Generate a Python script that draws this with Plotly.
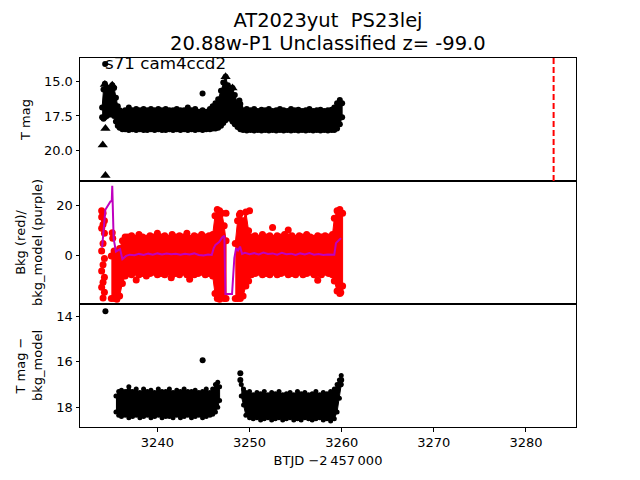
import plotly.graph_objects as go

# ---- top panel: T mag (envelope of the dense light curve) ----
top_t = [3234.0, 3234.15, 3234.3, 3234.5, 3234.7, 3234.9, 3235.1, 3235.3, 3235.5, 3235.7,
         3235.9, 3236.2, 3236.5, 3236.9, 3237.3, 3237.7, 3238.1, 3238.5, 3238.9, 3239.3,
         3239.7, 3240.1, 3240.5, 3240.9, 3241.3, 3241.7, 3242.1, 3242.5, 3242.9, 3243.3,
         3243.7, 3244.1, 3244.5, 3244.9, 3245.3, 3245.7, 3246.0, 3246.3, 3246.6, 3246.9,
         3247.15, 3247.4, 3247.65, 3247.9, 3248.15, 3248.4, 3248.7, 3249.0, 3249.3, 3249.7,
         3250.1, 3250.5, 3250.9, 3251.3, 3251.7, 3252.1, 3252.5, 3252.9, 3253.3, 3253.7,
         3254.1, 3254.5, 3254.9, 3255.3, 3255.7, 3256.1, 3256.5, 3256.9, 3257.3, 3257.7,
         3258.1, 3258.5, 3258.9, 3259.2, 3259.5, 3259.8, 3260.05]
top_hi = [16.9, 15.6, 15.2, 15.5, 15.8, 15.6, 15.3, 15.5, 16.2, 16.8,
          17.1, 17.2, 17.1, 16.9, 17.1, 17.0, 17.1, 17.0, 17.1, 17.0,
          17.1, 17.0, 17.1, 17.0, 17.1, 17.1, 17.0, 17.1, 17.1, 16.9,
          17.1, 17.0, 17.2, 17.1, 17.2, 17.0, 16.8, 16.6, 16.3, 15.7,
          15.1, 14.7, 15.3, 15.7, 15.5, 16.0, 16.6, 16.9, 17.1, 17.0,
          17.1, 17.0, 17.15, 17.05, 17.1, 17.0, 17.15, 17.1, 17.0, 17.1,
          17.15, 17.0, 17.1, 17.05, 17.15, 17.1, 17.0, 17.15, 17.1, 17.05,
          17.15, 17.1, 17.05, 16.9, 16.6, 16.35, 16.6]
top_lo = [17.6, 17.7, 17.6, 17.5, 17.4, 17.4, 17.3, 17.5, 17.9, 18.2,
          18.35, 18.45, 18.45, 18.5, 18.45, 18.5, 18.45, 18.5, 18.5, 18.45,
          18.5, 18.45, 18.5, 18.5, 18.45, 18.5, 18.45, 18.5, 18.45, 18.5,
          18.45, 18.5, 18.45, 18.5, 18.45, 18.45, 18.4, 18.4, 18.35, 18.2,
          18.0, 17.8, 17.6, 17.7, 17.9, 18.1, 18.3, 18.45, 18.5, 18.55,
          18.5, 18.55, 18.5, 18.55, 18.5, 18.55, 18.5, 18.55, 18.5, 18.55,
          18.5, 18.55, 18.5, 18.55, 18.5, 18.55, 18.5, 18.55, 18.5, 18.55,
          18.5, 18.55, 18.5, 18.5, 18.4, 18.1, 17.6]
top_dot_t = [3234.33, 3244.9, 3248.9, 3249.0]
top_dot_mag = [13.78, 15.9, 16.4, 16.65]
tri_t = [3234.07, 3234.36, 3234.36, 3234.3, 3235.1, 3247.4, 3248.15]
tri_mag = [19.58, 18.4, 21.76, 15.25, 15.3, 14.7, 15.5]
vline_t = [3283.0]

# ---- middle panel: background (red) and background model (purple) ----
bkg_a_t = [3235.0, 3235.3, 3235.6, 3235.9, 3236.2, 3236.5, 3236.8, 3237.2, 3237.6, 3238.0,
           3238.4, 3238.8, 3239.2, 3239.6, 3240.0, 3240.4, 3240.8, 3241.2, 3241.6, 3242.0,
           3242.4, 3242.8, 3243.2, 3243.6, 3244.0, 3244.4, 3244.8, 3245.2, 3245.6, 3246.0,
           3246.25, 3246.5, 3246.75, 3247.0, 3247.25, 3247.45]
bkg_a_hi = [0.0, 2.0, 1.0, 3.0, 6.0, 7.5, 7.5, 8.0, 7.0, 8.5,
            7.5, 7.0, 8.0, 7.5, 9.0, 7.5, 8.0, 7.0, 8.5, 7.5,
            8.0, 7.5, 9.0, 7.0, 8.0, 7.5, 8.5, 7.5, 8.0, 8.5,
            16.0, 18.5, 18.0, 17.0, 12.0, 6.0]
bkg_a_lo = [-17.0, -17.0, -17.3, -16.0, -11.0, -8.0, -7.0, -7.5, -6.5, -7.5,
            -7.0, -8.0, -7.0, -6.5, -7.5, -7.0, -7.5, -6.5, -7.5, -7.0,
            -7.5, -6.5, -7.5, -7.0, -7.5, -7.0, -6.5, -7.5, -7.0, -8.0,
            -15.0, -17.0, -17.3, -16.0, -17.0, -17.0]
bkg_b_t = [3248.45, 3248.7, 3249.0, 3249.3, 3249.6, 3249.9, 3250.2, 3250.6, 3251.0, 3251.4,
           3251.8, 3252.2, 3252.6, 3253.0, 3253.4, 3253.8, 3254.2, 3254.6, 3255.0, 3255.4,
           3255.8, 3256.2, 3256.6, 3257.0, 3257.4, 3257.8, 3258.2, 3258.6, 3259.0, 3259.2,
           3259.5, 3259.8, 3260.1]
bkg_b_hi = [5.0, 14.0, 17.0, 14.0, 17.5, 10.0, 7.5, 8.0, 7.0, 8.5,
            7.5, 8.0, 7.0, 8.0, 7.5, 8.5, 7.5, 8.0, 7.0, 8.0,
            7.5, 8.5, 7.5, 7.0, 8.0, 7.5, 8.0, 7.5, 8.5, 15.0,
            18.0, 18.5, 17.0]
bkg_b_lo = [-17.0, -17.0, -17.0, -16.0, -12.0, -10.0, -7.5, -7.0, -6.5, -7.5,
            -7.0, -7.5, -6.5, -7.5, -7.0, -6.5, -7.5, -7.0, -7.5, -6.5,
            -7.5, -7.0, -6.5, -7.5, -7.0, -7.5, -6.5, -7.0, -7.5, -10.0,
            -14.0, -15.0, -12.0]
bkg_dot_t = [3233.95, 3234.1, 3233.95, 3234.25, 3234.1, 3233.95, 3234.25, 3234.1, 3233.95, 3234.25,
             3234.1, 3233.95, 3234.25, 3234.1, 3233.95, 3234.25, 3234.1,
             3237.7, 3241.5, 3243.5, 3257.4, 3250.0, 3247.45, 3248.9, 3254.2, 3252.5,
             3259.9, 3259.9, 3235.1, 3235.15]
bkg_dot_v = [18.0, 17.0, 15.5, 14.0, 12.5, 11.0, 9.0, 5.0, 2.0, -1.0,
             -3.5, -6.0, -8.5, -10.5, -12.5, -14.5, -16.8,
             -9.6, -8.7, -9.3, -9.7, 18.0, 17.0, 16.4, 10.3, 11.3,
             -12.4, -14.6, 9.2, 7.0]
model_t = [3234.0, 3234.2, 3234.35, 3234.9, 3235.05, 3235.1, 3235.25, 3235.5, 3235.75, 3235.95,
           3236.2, 3236.6, 3237.0, 3237.5, 3238.0, 3238.5, 3239.0, 3239.5, 3240.0, 3240.5,
           3241.0, 3241.5, 3242.0, 3242.5, 3243.0, 3243.5, 3244.0, 3244.5, 3245.0, 3245.5,
           3245.9, 3246.1, 3246.3, 3246.7, 3247.05, 3247.27, 3247.38, 3248.1, 3248.35, 3248.54,
           3248.75, 3248.97, 3249.19, 3249.5, 3250.0, 3250.5, 3251.0, 3251.5, 3252.0, 3252.5,
           3253.0, 3253.5, 3254.0, 3254.5, 3255.0, 3255.5, 3256.0, 3256.5, 3257.0, 3257.5,
           3258.0, 3258.5, 3259.2, 3259.38, 3259.92]
model_v = [3.3, 13.0, 18.4, 21.7, 22.0, 28.0, 7.0, 1.7, 2.4, 2.7,
           -1.3, 0.0, 0.5, 0.3, 0.8, 0.4, 0.9, 0.5, 1.0, 0.6,
           1.0, 0.7, 0.9, 0.5, 0.9, 0.6, 1.0, 0.4, 0.2, 0.6,
           0.4, 3.0, 4.4, 5.5, 7.5, 8.0, -15.2, -15.2, -0.9, 3.1,
           2.2, 3.7, 0.8, 1.2, 0.7, 1.1, 0.6, 1.3, 0.8, 1.0,
           0.5, 1.2, 0.7, 0.9, 0.4, 1.0, 0.6, 1.1, 0.5, 0.8,
           0.4, 0.6, 0.5, 5.1, 7.1]

# ---- bottom panel: T mag - bkg_model ----
sub_a_t = [3235.5, 3235.8, 3236.1, 3236.5, 3236.9, 3237.3, 3237.7, 3238.1, 3238.5, 3238.9,
           3239.3, 3239.7, 3240.1, 3240.5, 3240.9, 3241.3, 3241.7, 3242.1, 3242.5, 3242.9,
           3243.3, 3243.7, 3244.1, 3244.5, 3244.9, 3245.3, 3245.7, 3246.0, 3246.3, 3246.55,
           3246.75]
sub_a_hi = [17.5, 17.3, 17.25, 17.3, 17.1, 17.3, 17.2, 17.35, 17.2, 17.3,
            17.25, 17.35, 17.2, 17.3, 17.3, 17.2, 17.35, 17.25, 17.3, 17.2,
            17.3, 17.3, 17.25, 17.35, 17.3, 17.2, 17.35, 17.2, 17.0, 16.9,
            17.1]
sub_a_lo = [18.2, 18.35, 18.4, 18.35, 18.45, 18.4, 18.35, 18.45, 18.4, 18.35,
            18.45, 18.4, 18.35, 18.45, 18.4, 18.4, 18.45, 18.35, 18.45, 18.4,
            18.35, 18.45, 18.4, 18.35, 18.45, 18.4, 18.35, 18.3, 18.2, 18.0,
            17.7]
sub_b_t = [3249.1, 3249.35, 3249.6, 3250.0, 3250.4, 3250.8, 3251.2, 3251.6, 3252.0, 3252.4,
           3252.8, 3253.2, 3253.6, 3254.0, 3254.4, 3254.8, 3255.2, 3255.6, 3256.0, 3256.4,
           3256.8, 3257.2, 3257.6, 3258.0, 3258.4, 3258.8, 3259.2, 3259.5, 3259.75, 3259.95]
sub_b_hi = [17.0, 17.2, 17.35, 17.3, 17.45, 17.35, 17.4, 17.3, 17.45, 17.35,
            17.4, 17.3, 17.45, 17.4, 17.35, 17.45, 17.3, 17.4, 17.35, 17.45,
            17.4, 17.3, 17.45, 17.35, 17.4, 17.3, 17.2, 17.0, 16.8, 16.6]
sub_b_lo = [17.5, 17.9, 18.35, 18.45, 18.5, 18.45, 18.55, 18.5, 18.45, 18.55,
            18.5, 18.45, 18.55, 18.5, 18.45, 18.55, 18.5, 18.55, 18.45, 18.5,
            18.55, 18.5, 18.45, 18.55, 18.5, 18.6, 18.5, 18.2, 17.6, 17.0]
sub_dot_t = [3234.36, 3244.91, 3249.0, 3249.0, 3259.95, 3259.85]
sub_dot_mag = [13.79, 15.93, 16.5, 16.8, 16.8, 17.0]

label_t, label_mag = 3234.05, 13.73

fig = go.Figure()


def add_band(t, hi, lo, color, xa, ya, size):
    # dense cloud of points drawn as its filled envelope with dotted edges
    fig.add_trace(go.Scatter(x=t + t[::-1], y=hi + lo[::-1], mode='lines', fill='toself',
                             fillcolor=color, line=dict(color=color, width=1),
                             xaxis=xa, yaxis=ya, hoverinfo='skip', showlegend=False))
    fig.add_trace(go.Scatter(x=t + t, y=hi + lo, mode='markers',
                             marker=dict(color=color, size=size),
                             xaxis=xa, yaxis=ya, showlegend=False))


add_band(top_t, top_hi, top_lo, 'black', 'x', 'y', 6)
fig.add_trace(go.Scatter(x=top_dot_t, y=top_dot_mag, mode='markers',
                         marker=dict(color='black', size=6), xaxis='x', yaxis='y', showlegend=False))
fig.add_trace(go.Scatter(x=tri_t, y=tri_mag, mode='markers',
                         marker=dict(color='black', size=9, symbol='triangle-up'),
                         xaxis='x', yaxis='y', showlegend=False))

add_band(bkg_a_t, bkg_a_hi, bkg_a_lo, 'red', 'x2', 'y2', 7)
add_band(bkg_b_t, bkg_b_hi, bkg_b_lo, 'red', 'x2', 'y2', 7)
fig.add_trace(go.Scatter(x=bkg_dot_t, y=bkg_dot_v, mode='markers',
                         marker=dict(color='red', size=7), xaxis='x2', yaxis='y2', showlegend=False))
fig.add_trace(go.Scatter(x=model_t, y=model_v, mode='lines',
                         line=dict(color='#bf00bf', width=2), xaxis='x2', yaxis='y2', showlegend=False))

add_band(sub_a_t, sub_a_hi, sub_a_lo, 'black', 'x3', 'y3', 5)
add_band(sub_b_t, sub_b_hi, sub_b_lo, 'black', 'x3', 'y3', 5)
fig.add_trace(go.Scatter(x=sub_dot_t, y=sub_dot_mag, mode='markers',
                         marker=dict(color='black', size=6), xaxis='x3', yaxis='y3', showlegend=False))

fig.add_shape(type='line', x0=vline_t[0], x1=vline_t[0], y0=0, y1=1, xref='x', yref='y domain',
              line=dict(color='red', width=2, dash='6px,3px'))

fig.add_annotation(x=label_t, y=label_mag, xref='x', yref='y', text='s71 cam4ccd2',
                   showarrow=False, xanchor='left', yanchor='middle',
                   font=dict(size=16.7, color='black'))
# second title line, kept apart so the line spacing matches
fig.add_annotation(x=0.5, y=1.038, xref='paper', yref='paper',
                   text='20.88w-P1 Unclassified z= -99.0', showarrow=False,
                   xanchor='center', yanchor='middle', font=dict(size=19.5, color='black'))

xr = [3231.6, 3285.43]
ax_common = dict(showline=True, linecolor='black', linewidth=1, mirror=True, automargin=False,
                 showgrid=False, zeroline=False, ticks='outside', ticklen=3.5,
                 tickwidth=0.8, tickcolor='black', tickfont=dict(size=13, color='black'))

# the page body adds an 8px offset, so the figure is 8px smaller than the window
fig.update_layout(
    width=632, height=472,
    margin=dict(l=72, r=64, t=50, b=53),
    plot_bgcolor='white', paper_bgcolor='white',
    font=dict(family='DejaVu Sans', color='black'),
    title=dict(text='AT2023yut  PS23lej',
               x=0.5, xref='paper', y=0.975, yref='container', yanchor='middle',
               font=dict(size=19.5, color='black')),
    xaxis=dict(domain=[0, 1], anchor='y', range=xr, matches='x3', showticklabels=False,
               **{**ax_common, 'ticks': ''}),
    xaxis2=dict(domain=[0, 1], anchor='y2', range=xr, matches='x3', showticklabels=False,
                **{**ax_common, 'ticks': ''}),
    xaxis3=dict(domain=[0, 1], anchor='y3', range=xr, tickvals=[3240, 3250, 3260, 3270, 3280],
                title=dict(text='BTJD −2\u2009457\u2009000', font=dict(size=13), standoff=6),
                **ax_common),
    yaxis=dict(domain=[2 / 3, 1], anchor='x', range=[22.16, 13.35],
               tickvals=[15.0, 17.5, 20.0], ticktext=['15.0', '17.5', '20.0'],
               title=dict(text='T mag', font=dict(size=13), standoff=10), **ax_common),
    yaxis2=dict(domain=[1 / 3, 2 / 3], anchor='x2', range=[-19.2, 29.9], tickvals=[0, 20],
                title=dict(text='Bkg (red)/<br>bkg_model (purple)', font=dict(size=13), standoff=10),
                **ax_common),
    yaxis3=dict(domain=[0, 1 / 3], anchor='x3', range=[18.86, 13.47], tickvals=[14, 16, 18],
                title=dict(text='T mag −<br>bkg_model', font=dict(size=13), standoff=10),
                **ax_common),
)

fig.write_html("out.html")
